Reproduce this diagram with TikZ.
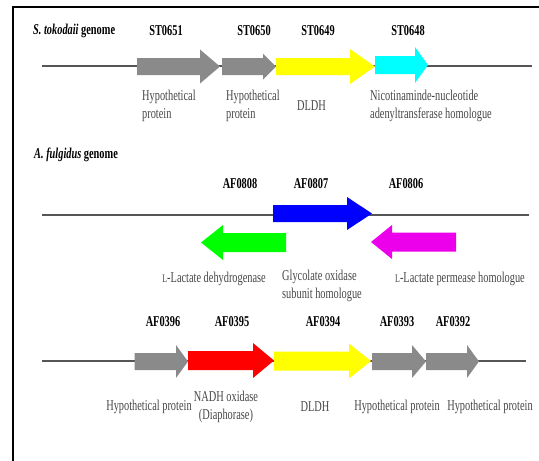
\documentclass[tikz,border=0pt]{standalone}
\usepackage{fontspec}
\setmainfont{Liberation Serif}[FakeStretch=0.69]
\definecolor{genegray}{RGB}{138,138,138}
\definecolor{textgray}{RGB}{70,70,70}
\definecolor{linegray}{RGB}{85,85,85}
\definecolor{genemag}{RGB}{236,0,236}
\definecolor{genecyan}{RGB}{0,255,255}
\definecolor{geneyellow}{RGB}{255,255,0}
\definecolor{geneblue}{RGB}{0,0,255}
\definecolor{genegreen}{RGB}{0,255,0}
\definecolor{genered}{RGB}{255,0,0}
\newcommand\gfont{\fontsize{15}{18}\selectfont}
\newcommand\smallL{{\fontsize{11.5}{12}\selectfont L}}
% x0, x1 (head base), tip, y, body half height, head half height, colour
\newcommand\genearrow[7]{%
  \fill[#7] (#1,#4-#5) -- (#2,#4-#5) -- (#2,#4-#6) -- (#3,#4) -- (#2,#4+#6)
    -- (#2,#4+#5) -- (#1,#4+#5) -- cycle;}
\tikzset{
  desc/.style={font=\gfont, text=textgray, inner sep=0pt, align=left},
  locus/.style={font=\gfont\bfseries, inner sep=0pt},
  genome/.style={draw=linegray, line width=1.3pt},
  frameline/.style={draw=black, line width=2.5pt}
}
\begin{document}
\begin{tikzpicture}[x=1pt, y=-1pt]
\useasboundingbox (0,0) rectangle (539,461);
% frame
\coordinate (fr1) at (539,7);
\coordinate (fr2) at (13,7);
\coordinate (fr3) at (13,462);
\draw[frameline] (fr1) -- (fr2) -- (fr3);

% ---------- Row 1: S. tokodaii ----------
\coordinate (l1a) at (42,66);
\coordinate (l1b) at (532,66);
\draw[genome] (l1a) -- (l1b);
\genearrow{137}{200}{220}{66.5}{8.5}{17}{genegray}
\genearrow{222}{263}{276}{66.5}{8.5}{13}{genegray}
\genearrow{276}{350}{375}{66.5}{8.5}{17.5}{geneyellow}
\genearrow{375}{415}{428}{65}{9}{18}{genecyan}

\node[locus, anchor=west] (t1) at (33,31) {\textit{S. tokodaii} genome};
\node[locus] (st0651) at (166,31) {ST0651};
\node[locus] (st0650) at (254,31) {ST0650};
\node[locus] (st0649) at (318,31) {ST0649};
\node[locus] (st0648) at (408,31) {ST0648};

\node[desc, anchor=west] (d11) at (142,106) {Hypothetical\\protein};
\node[desc, anchor=west] (d12) at (226,106) {Hypothetical\\protein};
\node[desc, anchor=west] (d13) at (297,106) {DLDH};
\node[desc, anchor=west] (d14) at (370,106) {Nicotinaminde-nucleotide\\adenyltransferase homologue};

% ---------- Row 2: A. fulgidus ----------
\coordinate (l2a) at (42,215);
\coordinate (l2b) at (529,215);
\draw[genome] (l2a) -- (l2b);
\genearrow{273}{347}{372}{213.5}{8.5}{16.5}{geneblue}
\genearrow{286}{223}{201}{242.5}{9.5}{17.5}{genegreen}
\genearrow{456}{392}{371}{242}{9.5}{17}{genemag}

\node[locus, anchor=west] (t2) at (34,155) {\textit{A. fulgidus} genome};
\node[locus] (af0808) at (240,184) {AF0808};
\node[locus] (af0807) at (311,184) {AF0807};
\node[locus] (af0806) at (406,184) {AF0806};

\node[desc, anchor=east] (d21) at (266,279) {\smallL-Lactate dehydrogenase};
\node[desc, anchor=north west] (d22) at (282,270) {Glycolate oxidase\\subunit homologue};
\node[desc, anchor=west] (d23) at (395,279) {\smallL-Lactate permease homologue};

% ---------- Row 3: A. fulgidus ----------
\coordinate (l3a) at (42,361);
\coordinate (l3b) at (526,361);
\draw[genome] (l3a) -- (l3b);
\genearrow{134.5}{176}{188}{361.5}{8.5}{16.5}{genegray}
\genearrow{188}{253}{274}{360.5}{9.5}{17.5}{genered}
\genearrow{274}{349}{371}{361}{9.5}{17.5}{geneyellow}
\genearrow{372}{412}{426}{361.5}{8.5}{16.5}{genegray}
\genearrow{426}{467}{479}{361.5}{8.5}{16.5}{genegray}

\node[locus] (af0396) at (163,322) {AF0396};
\node[locus] (af0395) at (232,322) {AF0395};
\node[locus] (af0394) at (323,322) {AF0394};
\node[locus] (af0393) at (397,322) {AF0393};
\node[locus] (af0392) at (453,322) {AF0392};

\node[desc] (d31) at (149,407) {Hypothetical protein};
\node[desc, align=center] (d32) at (226,407) {NADH oxidase\\(Diaphorase)};
\node[desc] (d33) at (315,407) {DLDH};
\node[desc] (d34) at (397,407) {Hypothetical protein};
\node[desc] (d35) at (490,407) {Hypothetical protein};
\end{tikzpicture}
\end{document}
